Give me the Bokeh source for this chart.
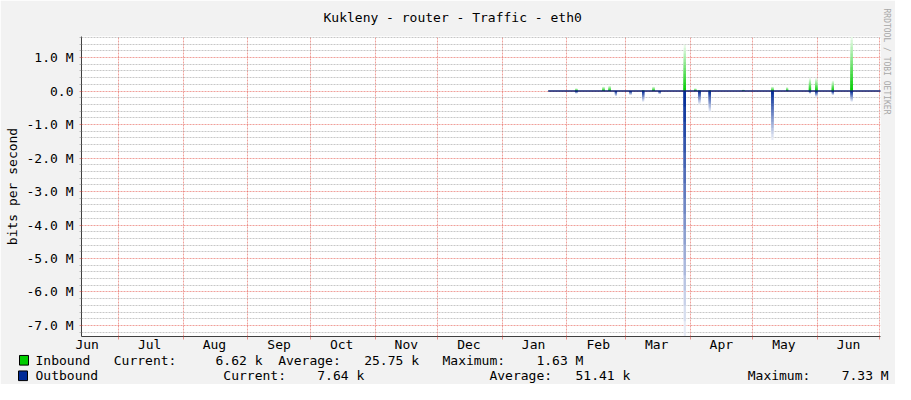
import math
from bokeh.plotting import figure
from bokeh.models import Range1d, FixedTicker, Title
from bokeh.embed import file_html
from bokeh.resources import INLINE

# ---------------- data ----------------
month_names = ["Jun", "Jul", "Aug", "Sep", "Oct", "Nov", "Dec",
               "Jan", "Feb", "Mar", "Apr", "May", "Jun"]
month_start_day = [0, 30, 61, 92, 122, 153, 183, 214, 245, 273, 304, 334, 365]
next_month_day = 395          # Jul 1 of the second year
view_days = (12.3, 395.3)      # visible time window (days since first Jun 1)

y_tick_values = [-7_000_000, -6_000_000, -5_000_000, -4_000_000, -3_000_000,
                 -2_000_000, -1_000_000, 0, 1_000_000]
y_tick_labels = ["-7.0 M", "-6.0 M", "-5.0 M", "-4.0 M", "-3.0 M",
                 "-2.0 M", "-1.0 M", "0.0", "1.0 M"]
y_view = (-7_330_000, 1_630_000)

series_first_day = 236
series_last_day = 396

spike_day = [249, 262, 265, 268, 275, 281, 286, 289, 301, 306, 308, 313,
             329, 343, 350, 361, 364, 372, 381]
inbound_bps = [80e3, 130e3, 160e3, 0, 0, 30e3, 130e3, 0, 1380e3, 80e3, 30e3,
               30e3, 40e3, 130e3, 110e3, 380e3, 380e3, 310e3, 1630e3]
outbound_bps = [70e3, 0, 0, 150e3, 120e3, 320e3, 0, 90e3, 7330e3, 0, 390e3,
                620e3, 0, 1460e3, 0, 70e3, 170e3, 120e3, 320e3]

legend_names = ["Inbound", "Outbound"]
legend_current = ["6.62 k", "7.64 k"]
legend_average = ["25.75 k", "51.41 k"]
legend_maximum = ["1.63 M", "7.33 M"]

title_text = "Kukleny - router - Traffic - eth0"
y_title = "bits per second"
credit_text = "RRDTOOL / TOBI OETIKER"

# ---------------- style ----------------
FONT = "DejaVu Sans Mono"
GREEN = (0, 204, 0)
BLUE = (0, 42, 151)
MGRID = "#E35046"
GRID = "#8F8F8F"
AXIS = "#404040"
BACK = "#F2F2F2"

W, H = 895, 384
FL, FR, FT, FB = 80, 15, 36, 48
FRAME_W = W - FL - FR   # 800
FRAME_H = H - FT - FB   # 300


def hexcol(rgb):
    return "#%02x%02x%02x" % rgb


def blend(rgb, t):
    return "#%02x%02x%02x" % tuple(round(c + (255 - c) * t) for c in rgb)


p = figure(width=W, height=H, output_backend="svg", toolbar_location=None,
           title=None, x_range=Range1d(*view_days), y_range=Range1d(*y_view),
           min_border_left=FL, min_border_right=FR, min_border_top=FT,
           min_border_bottom=FB)
p.background_fill_color = "white"
p.border_fill_color = BACK
p.outline_line_color = None

# ---- title / credit ----
p.add_layout(Title(text=title_text, align="left", offset=242,
                   vertical_align="top", standoff=19, text_font=FONT,
                   text_font_size="13px", text_font_style="normal",
                   text_color="black"), "above")
p.add_layout(Title(text=credit_text, align="left", offset=-28, standoff=3,
                   text_font=FONT, text_font_size="8px",
                   text_font_style="normal", text_color="#A8A8A8"), "right")

# ---- grids ----
minor_y = [v * 200_000 for v in range(-36, 9) if v % 5 != 0]
yticker = FixedTicker(ticks=y_tick_values, minor_ticks=minor_y)
p.yaxis.ticker = yticker
p.ygrid.ticker = yticker
p.ygrid.grid_line_color = MGRID
p.ygrid.grid_line_alpha = 0.55
p.ygrid.grid_line_dash = "2 1"
p.ygrid.minor_grid_line_color = GRID
p.ygrid.minor_grid_line_alpha = 0.5
p.ygrid.minor_grid_line_dash = "2 1"

grid_days = month_start_day[1:] + [next_month_day]
p.xgrid.ticker = FixedTicker(ticks=grid_days)
p.xgrid.grid_line_color = MGRID
p.xgrid.grid_line_alpha = 0.55
p.xgrid.grid_line_dash = "2 1"

# ---- axes ----
label_days = [d + 15 for d in month_start_day]
xa = p.xaxis[0]
xa.ticker = FixedTicker(ticks=label_days, minor_ticks=grid_days)
xa.major_label_overrides = {d: n for d, n in zip(label_days, month_names)}
xa.major_tick_line_color = None
xa.major_tick_out = 0
xa.major_tick_in = 0
xa.minor_tick_out = 3
xa.minor_tick_in = 0
xa.minor_tick_line_color = MGRID
xa.minor_tick_line_alpha = 0.6
xa.axis_line_color = AXIS
xa.major_label_standoff = -3
xa.major_label_text_font = FONT
xa.major_label_text_font_size = "13px"
xa.major_label_text_color = "black"

ya = p.yaxis[0]
ya.major_label_overrides = {v: t for v, t in zip(y_tick_values, y_tick_labels)}
ya.major_tick_out = 2
ya.major_tick_in = 0
ya.minor_tick_out = 2
ya.minor_tick_in = 0
ya.major_tick_line_color = MGRID
ya.major_tick_line_alpha = 0.6
ya.minor_tick_line_color = GRID
ya.minor_tick_line_alpha = 0.6
ya.axis_line_color = AXIS
ya.major_label_standoff = 6
ya.major_label_text_font = FONT
ya.major_label_text_font_size = "13px"
ya.major_label_text_color = "black"

# ---- gradient spikes: longest/palest first, shorter/darker on top ----
N = 16
L, R, B, T, C = [], [], [], [], []
for d, vin, vout in zip(spike_day, inbound_bps, outbound_bps):
    for v, rgb in ((vin, GREEN), (-vout, BLUE)):
        if v == 0:
            continue
        for j in range(N):
            frac = (N - j) / N
            L.append(d)
            R.append(d + 1)
            B.append(0)
            T.append(v * frac)
            C.append(blend(rgb, 0.93 * (frac - 0.5 / N)))
p.quad(left=L, right=R, bottom=B, top=T, fill_color=C, line_color=None)

p.line([series_first_day, series_last_day], [0, 0], line_color="#0D1F72",
       line_width=1.5)

# ---- legend colour swatches (left side panels, placed below the frame) ----
sw_center_y = [359.8, 375.3]
for i, rgb in enumerate([GREEN, BLUE]):
    p.add_layout(Title(text="\u00a0\u00a0", align="left",
                       offset=(FT + FRAME_H) - (sw_center_y[i] + 4.8),
                       vertical_align="bottom", standoff=-10, text_font=FONT,
                       text_font_size="8px", text_color=hexcol(rgb),
                       background_fill_color=hexcol(rgb),
                       border_line_color="black", border_line_width=1),
                 "left")

# y axis title (outermost left panel)
p.add_layout(Title(text=y_title, align="center", vertical_align="bottom",
                   standoff=4, text_font=FONT, text_font_size="13px",
                   text_font_style="normal", text_color="black"), "left")

# ---- legend rows (rrdtool style, monospace padded titles below) ----
PITCH = 13 * 0.6021
row_x = [
    [34, 116, 213, 279, 366, 440, 537.5],
    [34, 219.6, 315.5, 485, 572, 749.6, 840],
]


def build_row(pieces, xs):
    s = ""
    cur = xs[0]
    for k, (piece, x) in enumerate(zip(pieces, xs)):
        n = 0 if k == 0 else max(1, round((x - cur) / PITCH))
        s += "\u00a0" * n + piece
        cur += (n + len(piece)) * PITCH
    return s


row_standoff = [-3, -2]
for i in range(2):
    pieces = [legend_names[i], "Current:", legend_current[i], "Average:",
              legend_average[i], "Maximum:", legend_maximum[i]]
    p.add_layout(Title(text=build_row(pieces, row_x[i]), align="left",
                       offset=34 - FL, vertical_align="top",
                       standoff=row_standoff[i], text_font=FONT,
                       text_font_size="13px", text_font_style="normal",
                       text_color="black"), "below")

open("out.html", "w").write(file_html(p, INLINE))
